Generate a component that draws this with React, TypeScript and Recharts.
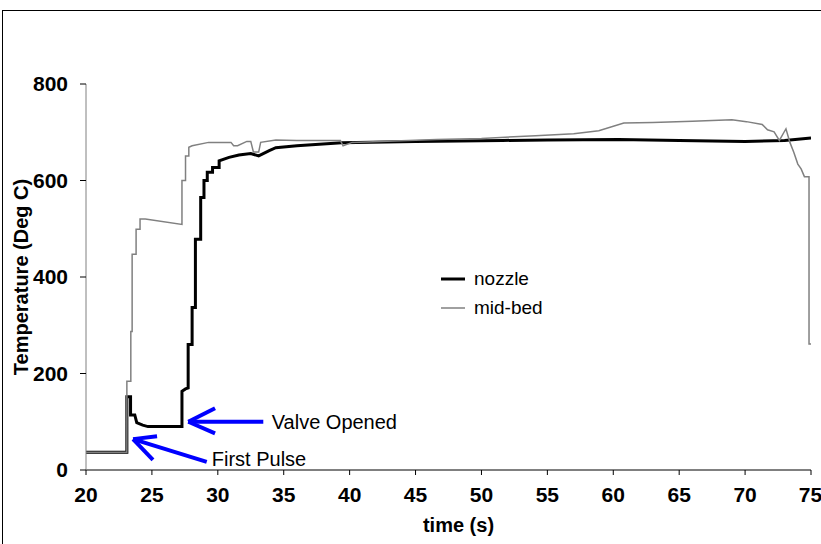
import React from 'react';
import {
  LineChart,
  Line,
  XAxis,
  YAxis,
  Legend,
  ReferenceLine,
  ReferenceDot,
} from 'recharts';

const FONT = 'Arial, "Liberation Sans", sans-serif';

// nozzle thermocouple readings (time s, temperature deg C)
const nozzleTime = [
  20, 23.1, 23.1, 23.38, 23.38, 23.7, 23.85, 24.3, 24.7, 27.28, 27.28, 27.55, 27.75, 27.75,
  28.05, 28.05, 28.3, 28.3, 28.7, 28.7, 28.95, 28.95, 29.2, 29.2, 29.6, 29.6, 30.1, 30.1,
  30.85, 31.6, 32.5, 33.1, 33.9, 34.4, 36, 39.4, 45, 51.6, 55, 60.4, 65, 70, 73, 75,
];
const nozzleTemp = [
  37, 37, 152, 152, 114, 114, 98, 93, 90, 90, 163, 168, 170, 260,
  260, 337, 337, 478, 478, 565, 565, 600, 600, 617, 617, 627, 627, 641,
  648, 653, 656, 651, 662, 668, 672, 678, 681, 683, 684, 685, 683, 681, 683, 688,
];

// mid-bed thermocouple readings
const midBedTime = [
  20, 23.1, 23.1, 23.4, 23.4, 23.5, 23.5, 23.8, 23.8, 24.1, 24.1, 24.5, 27.28, 27.28,
  27.55, 27.55, 27.8, 27.8, 28.05, 29.3, 31.0, 31.2, 31.5, 32.2, 32.5, 32.7, 33.1, 33.25,
  34.4, 36, 39.3, 39.5, 40.2, 46.6, 50, 54.1, 57, 58.9, 60.8, 63, 66, 69, 70.1, 71.3,
  71.7, 72.2, 72.6, 72.95, 73.1, 73.4, 73.7, 74.0, 74.25, 74.5, 74.85, 74.85, 75,
];
const midBedTemp = [
  37, 37, 184, 184, 287, 287, 447, 447, 499, 499, 520, 520, 509, 600,
  600, 651, 651, 669, 672, 679, 679, 672, 672, 681, 681, 659, 659, 679,
  684, 683, 683, 672, 679, 685, 687, 693, 697, 703, 719, 720, 723, 726, 722, 716,
  705, 701, 683, 700, 707, 679, 658, 634, 624, 608, 608, 261, 261,
];

const xTicks = [20, 25, 30, 35, 40, 45, 50, 55, 60, 65, 70, 75];
const yTicks = [0, 200, 400, 600, 800];
const legendOrder = ['nozzle', 'mid-bed'];

// annotation arrows: tip, tail, two wing ends (in data units)
const valveArrow = { tip: [27.76, 100], tail: [33.45, 100], wingA: [29.79, 128], wingB: [29.79, 76] };
const pulseArrow = { tip: [23.57, 64], tail: [29.16, 17], wingA: [25.39, 70], wingB: [25.08, 21] };
const valveLabel = { t: 34.09, v: 85, text: 'Valve Opened' };
const pulseLabel = { t: 29.54, v: 8, text: 'First Pulse' };

const nozzleData = nozzleTime.map((t, i) => ({ t, v: nozzleTemp[i] }));
const midBedData = midBedTime.map((t, i) => ({ t, v: midBedTemp[i] }));

const seriesStyle: Record<string, { color: string; width: number }> = {
  nozzle: { color: '#000000', width: 3 },
  'mid-bed': { color: '#808080', width: 1.5 },
};

const renderLegend = ({ payload }: { payload?: Array<{ value: string }> }) => {
  const items = [...(payload || [])].sort(
    (a, b) => legendOrder.indexOf(a.value) - legendOrder.indexOf(b.value)
  );
  return (
    <div style={{ fontFamily: FONT, fontSize: 19, color: '#000' }}>
      {items.map((entry) => {
        const s = seriesStyle[entry.value];
        return (
          <div key={entry.value} style={{ display: 'flex', alignItems: 'center', height: 29 }}>
            <svg width={33} height={10}>
              <line x1={0} y1={5} x2={24} y2={5} stroke={s.color} strokeWidth={s.width} />
            </svg>
            <span>{entry.value}</span>
          </div>
        );
      })}
    </div>
  );
};

const arrowSegments = (a: typeof valveArrow) => [
  [a.tip, a.tail],
  [a.tip, a.wingA],
  [a.tip, a.wingB],
];

const textShape = (text: string) => (props: { cx?: number; cy?: number }) => (
  <text x={props.cx} y={props.cy} fontFamily={FONT} fontSize={20} fill="#000">
    {text}
  </text>
);

export default function App() {
  return (
    <div style={{ position: 'absolute', left: 0, top: 0, width: 821, height: 544, overflow: 'hidden', background: '#fff' }}>
      <div
        style={{
          position: 'absolute',
          left: 2,
          top: 10,
          width: 900,
          height: 700,
          border: '1.5px solid #000',
        }}
      />
      <div style={{ position: 'absolute', left: 0, top: 0 }}>
        <LineChart width={821} height={544} margin={{ top: 84, right: 10, bottom: 0, left: 0 }}>
          <XAxis
            dataKey="t"
            type="number"
            domain={[20, 75]}
            ticks={xTicks}
            allowDataOverflow
            height={74}
            tickSize={5}
            tickMargin={12}
            stroke="#000"
            tick={{ fontSize: 21, fontWeight: 'bold', fill: '#000', fontFamily: FONT }}
            label={{
              value: 'time (s)',
              position: 'insideBottom',
              offset: 12,
              dx: 10,
              style: { fontSize: 20, fontWeight: 'bold', fill: '#000', fontFamily: FONT },
            }}
          />
          <YAxis
            type="number"
            domain={[0, 800]}
            ticks={yTicks}
            width={86}
            tickSize={6}
            tickMargin={12}
            axisLine={{ stroke: '#808080' }}
            tickLine={{ stroke: '#000' }}
            tick={{ fontSize: 21, fontWeight: 'bold', fill: '#000', fontFamily: FONT }}
            label={{
              value: 'Temperature (Deg C)',
              angle: -90,
              position: 'insideLeft',
              offset: 21,
              style: { fontSize: 20, fontWeight: 'bold', fill: '#000', fontFamily: FONT, textAnchor: 'middle' },
            }}
          />
          <Legend
            layout="vertical"
            align="center"
            verticalAlign="middle"
            content={renderLegend}
            wrapperStyle={{ position: 'absolute', left: 441, top: 264, width: 120 }}
          />
          <Line
            data={nozzleData}
            dataKey="v"
            name="nozzle"
            type="linear"
            stroke="#000000"
            strokeWidth={3}
            dot={false}
            isAnimationActive={false}
          />
          <Line
            data={midBedData}
            dataKey="v"
            name="mid-bed"
            type="linear"
            stroke="#808080"
            strokeWidth={1.5}
            dot={false}
            isAnimationActive={false}
          />
          {[...arrowSegments(valveArrow), ...arrowSegments(pulseArrow)].map((seg, i) => (
            <ReferenceLine
              key={`arrow-${i}`}
              segment={[
                { x: seg[0][0], y: seg[0][1] },
                { x: seg[1][0], y: seg[1][1] },
              ]}
              stroke="#0000FF"
              strokeWidth={4}
              ifOverflow="visible"
            />
          ))}
          <ReferenceDot x={valveLabel.t} y={valveLabel.v} r={0} ifOverflow="visible" shape={textShape(valveLabel.text)} />
          <ReferenceDot x={pulseLabel.t} y={pulseLabel.v} r={0} ifOverflow="visible" shape={textShape(pulseLabel.text)} />
        </LineChart>
      </div>
    </div>
  );
}
